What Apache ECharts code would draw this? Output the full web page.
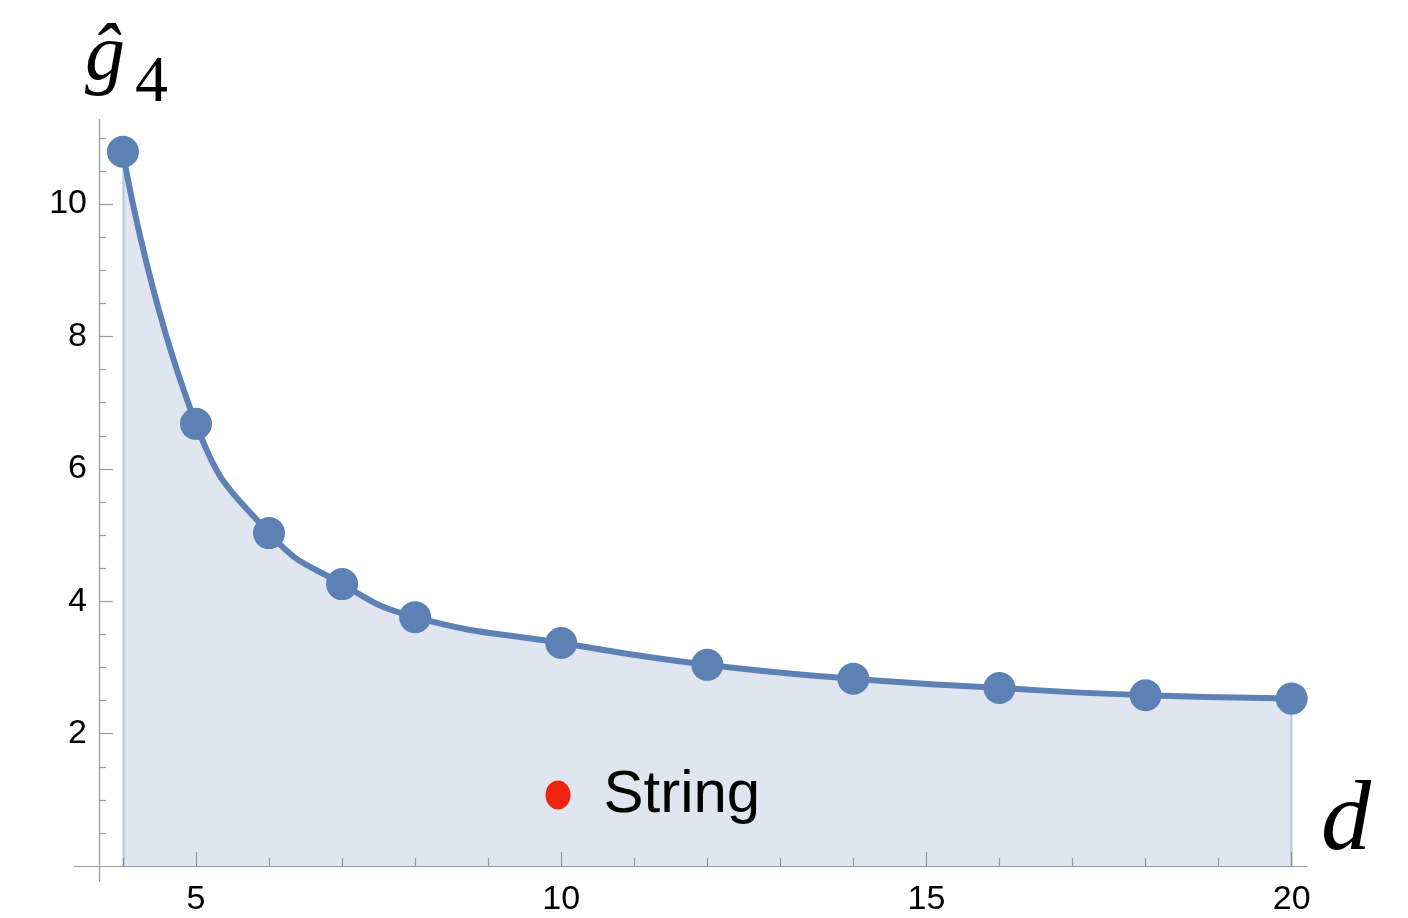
<!DOCTYPE html>
<html><head><meta charset="utf-8">
<script src="https://cdn.jsdelivr.net/npm/echarts@6/dist/echarts.min.js"></script>
<style>html,body{margin:0;padding:0;background:#fff}#c{width:1408px;height:918px}</style>
</head><body><div id="c"></div>
<script>
const dimensions = [4, 5, 6, 7, 8, 10, 12, 14, 16, 18, 20];
const g4Values = [10.79, 6.68, 5.03, 4.26, 3.76, 3.37, 3.04, 2.83, 2.69, 2.58, 2.53];
const stringValues = [];
const xMajorTicks = [5, 10, 15, 20];
const xMinorTicks = [4, 6, 7, 8, 9, 11, 12, 13, 14, 16, 17, 18, 19];
const yMajorTicks = [2, 4, 6, 8, 10];
const yMinorTicks = [0.5, 1, 1.5, 2.5, 3, 3.5, 4.5, 5, 5.5, 6.5, 7, 7.5, 8.5, 9, 9.5, 10.5, 11];
const xRange = [3.33, 20.21];
const yRange = [-0.225, 11.28];
const yAxisCrossX = 3.671;

const axisColor = '#9a9a9a';
const sans = 'Liberation Sans, Arial, sans-serif';
const serif = 'Liberation Serif, Times New Roman, serif';
const blue = '#5e81b5';

const chart = echarts.init(document.getElementById('c'));
const lineData = dimensions.map((d, i) => [d, g4Values[i]]);
const first = lineData[0], last = lineData[lineData.length - 1];

chart.setOption({
  animation: false,
  backgroundColor: '#fff',
  grid: { left: 74, right: 101, top: 119.3, bottom: 37, outerBoundsMode: 'none', containLabel: false },
  legend: {
    data: ['String'],
    left: 545.5, top: 765, padding: 0,
    selectedMode: false,
    itemWidth: 25, itemHeight: 29,
    icon: 'path://M0,14.5 A12.5,14.5 0 1,1 25,14.5 A12.5,14.5 0 1,1 0,14.5 Z',
    textStyle: { fontFamily: sans, fontSize: 60, lineHeight: 60, color: '#000', padding: [0, 0, 0, 28] }
  },
  xAxis: [
    {
      type: 'value', min: xRange[0], max: xRange[1], position: 'bottom',
      axisLine: { show: true, onZero: true, onZeroAxisIndex: 0, lineStyle: { color: axisColor, width: 1.2 } },
      axisTick: { show: true, inside: true, length: 14, customValues: xMajorTicks, lineStyle: { color: axisColor, width: 1.2 } },
      axisLabel: { customValues: xMajorTicks, fontFamily: sans, fontSize: 34, color: '#000', margin: 1.5 },
      splitLine: { show: false },
      name: 'd', nameLocation: 'end', nameGap: 14,
      nameTextStyle: { fontFamily: serif, fontStyle: 'italic', fontSize: 100, lineHeight: 86, verticalAlign: 'bottom', color: '#000' }
    },
    {
      type: 'value', min: xRange[0], max: xRange[1], position: 'bottom',
      axisLine: { show: false, onZero: true, onZeroAxisIndex: 0 },
      axisTick: { show: true, inside: true, length: 8, customValues: xMinorTicks, lineStyle: { color: axisColor, width: 1.2 } },
      axisLabel: { show: false }, splitLine: { show: false }
    },
    {
      type: 'value', min: xRange[0] - yAxisCrossX, max: xRange[1] - yAxisCrossX, position: 'bottom',
      show: false, splitLine: { show: false }
    }
  ],
  yAxis: [
    {
      type: 'value', min: yRange[0], max: yRange[1], position: 'left',
      axisLine: { show: true, onZero: true, onZeroAxisIndex: 2, lineStyle: { color: axisColor, width: 1.2 } },
      axisTick: { show: true, inside: true, length: 14, customValues: yMajorTicks, lineStyle: { color: axisColor, width: 1.2 } },
      axisLabel: { customValues: yMajorTicks, fontFamily: sans, fontSize: 34, color: '#000', margin: -13 },
      splitLine: { show: false },
      name: '{g|ĝ}{s|4}', nameLocation: 'end', nameGap: 3.6,
      nameTextStyle: {
        align: 'center', padding: [0, 0, 0, 55], color: '#000',
        rich: {
          g: { fontFamily: serif, fontStyle: 'italic', fontSize: 80, height: 90, lineHeight: 103, verticalAlign: 'top', color: '#000' },
          s: { fontFamily: serif, fontSize: 66, height: 64, lineHeight: 103, verticalAlign: 'bottom', padding: [0, 0, 0, 10], color: '#000' }
        }
      }
    },
    {
      type: 'value', min: yRange[0], max: yRange[1], position: 'left',
      axisLine: { show: false, onZero: true, onZeroAxisIndex: 2 },
      axisTick: { show: true, inside: true, length: 7, customValues: yMinorTicks, lineStyle: { color: axisColor, width: 1.2 } },
      axisLabel: { show: false }, splitLine: { show: false }
    }
  ],
  series: [
    {
      name: 'g4', type: 'line', xAxisIndex: 0, yAxisIndex: 0,
      data: lineData, smooth: 0.5,
      symbol: 'circle', symbolSize: 32,
      itemStyle: { color: blue },
      lineStyle: { color: blue, width: 6 },
      areaStyle: { color: 'rgba(94,129,181,0.2)', opacity: 1 },
      markLine: {
        silent: true, symbol: 'none', label: { show: false },
        lineStyle: { color: 'rgba(94,129,181,0.3)', width: 2.5, type: 'solid' },
        data: [
          [{ coord: [first[0], 0] }, { coord: first }],
          [{ coord: [last[0], 0] }, { coord: last }]
        ]
      },
      z: 3
    },
    {
      name: 'String', type: 'scatter', xAxisIndex: 0, yAxisIndex: 0,
      data: stringValues, itemStyle: { color: '#ef2311', opacity: 1 }
    }
  ]
});
</script>
</body></html>
